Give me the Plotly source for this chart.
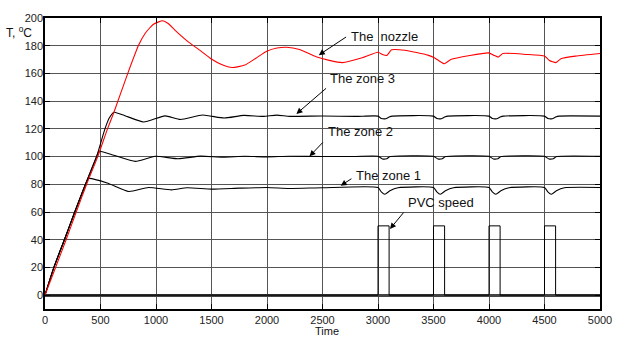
import plotly.graph_objects as go

# ---- data ----
nozzle_t = [0, 95, 190, 281, 375, 475, 563, 621, 749, 844, 903, 977, 1060, 1110, 1170,
            1288, 1390, 1495, 1590, 1687, 1800, 1900, 1998, 2090, 2176, 2294, 2442, 2560,
            2680, 2857, 3000, 3040, 3079, 3123, 3242, 3449, 3508, 3552, 3597, 3656, 3996,
            4041, 4085, 4124, 4337, 4500, 4544, 4603, 4648, 4781, 5000]
nozzle_v = [0, 20, 40, 60, 80, 100, 120, 132, 160.8, 180.5, 189, 195.5, 198, 196, 191.3,
            183, 177, 170.6, 166.5, 164.3, 166, 171, 176, 178.3, 178.9, 177.2, 172, 169.4,
            167.8, 171.3, 175.3, 173.7, 173, 177, 176.7, 173.2, 171.3, 169, 167, 170, 174.8,
            173.2, 171.8, 174.4, 173.7, 172.5, 169.4, 167.8, 170.6, 172.5, 174.4]

zone3_t = [0, 80, 175, 268, 365, 465, 540, 580, 622, 720, 888, 1081, 1220, 1420, 1614,
           1791, 1969, 2087, 2206, 2500, 2800, 3000, 3030, 3070, 3100, 3130, 3500, 3530,
           3570, 3600, 3630, 4000, 4030, 4070, 4100, 4130, 4500, 4530, 4570, 4600, 4630, 5000]
zone3_v = [0, 20, 40, 60, 80, 100, 120, 128, 132, 129.5, 125, 129.4, 126.8, 130, 127.8,
           129.7, 129, 129.9, 129, 129.3, 129, 129.2, 127.5, 127.3, 128.5, 129.2, 129.2, 127.5,
           127.3, 128.5, 129.2, 129.2, 127.5, 127.3, 128.5, 129.2, 129.2, 127.5, 127.3, 128.5, 129.2, 129.2]

zone2_t = [0, 80, 175, 268, 365, 465, 488, 620, 814, 992, 1199, 1400, 1600, 1800, 2000,
           2200, 2500, 2800, 3000, 3040, 3080, 3110, 3500, 3540, 3580, 3610, 4000, 4040,
           4080, 4110, 4500, 4540, 4580, 4610, 5000]
zone2_v = [0, 20, 40, 60, 80, 100, 103.8, 101, 96.5, 100.2, 98.4, 100.3, 99.6, 100.2, 99.8,
           100.2, 100, 100.1, 100.2, 98.3, 98.5, 100, 100.2, 98.3, 98.5, 100, 100.2, 98.3,
           98.5, 100, 100.2, 98.3, 98.5, 100, 100.2]

zone1_t = [0, 80, 175, 268, 365, 394, 560, 755, 932, 1140, 1280, 1500, 1750, 2000, 2200,
           2500, 3000, 3030, 3062, 3107, 3180, 3500, 3530, 3562, 3607, 3680, 4000, 4030,
           4062, 4107, 4180, 4500, 4530, 4562, 4607, 4680, 5000]
zone1_v = [0, 20, 40, 60, 80, 84.2, 81, 74.8, 77.7, 76, 77.5, 76.5, 77.2, 77.7, 77,
           77.5, 77.7, 74.5, 72.8, 75.3, 77.5, 77.7, 74.5, 72.8, 75.3, 77.5, 77.7, 74.5,
           72.8, 75.3, 77.5, 77.7, 74.5, 72.8, 75.3, 77.5, 77.7]

pvc_t = [0, 3000, 3100, 3500, 3600, 4000, 4100, 4500, 4600, 5000]
pvc_v = [0, 50, 0, 50, 0, 50, 0, 50, 0, 0]

x_ticks = [0, 500, 1000, 1500, 2000, 2500, 3000, 3500, 4000, 4500, 5000]
y_ticks = [0, 20, 40, 60, 80, 100, 120, 140, 160, 180, 200]

FONT = "Liberation Sans, Arial, sans-serif"

fig = go.Figure()
fig.add_trace(go.Scatter(x=pvc_t, y=pvc_v, mode="lines",
                         line=dict(color="black", width=1, shape="hv")))
for t, v in [(zone1_t, zone1_v), (zone2_t, zone2_v), (zone3_t, zone3_v)]:
    fig.add_trace(go.Scatter(x=t, y=v, mode="lines",
                             line=dict(color="black", width=1.1, shape="spline", smoothing=0.5)))
fig.add_trace(go.Scatter(x=nozzle_t, y=nozzle_v, mode="lines",
                         line=dict(color="#ff0000", width=1.1, shape="spline", smoothing=0.5)))

# arrows (head at curve, tail near label)
arrows = [
    (2466, 173.2, 2726, 187.0),
    (2265, 130.8, 2546, 150.2),
    (2383, 100.2, 2516, 111.3),
    (2664, 79.0, 2774, 84.7),
    (3108, 47.8, 3242, 60.7),
]
for hx, hy, tx, ty in arrows:
    fig.add_annotation(x=hx, y=hy, ax=tx, ay=ty, xref="x", yref="y", axref="x", ayref="y",
                       text="", showarrow=True, arrowhead=2, arrowsize=1.2, arrowwidth=1,
                       arrowcolor="black")

labels = [
    ("The  nozzle", 2738, 187.0),
    ("The zone 3", 2546, 156.7),
    ("The zone 2", 2531, 118.4),
    ("The zone 1", 2783, 86.1),
    ("PVC speed", 3248, 66.6),
]
for txt, lx, ly in labels:
    fig.add_annotation(x=lx, y=ly, xref="x", yref="y", text=txt, showarrow=False,
                       xanchor="left", yanchor="middle",
                       font=dict(family=FONT, size=13, color="#111"))

fig.add_annotation(x=-0.047, y=0.952, xref="paper", yref="paper",
                   text="T, <sup>o</sup>C", showarrow=False, xanchor="center", yanchor="middle",
                   font=dict(family=FONT, size=12, color="#111"))
fig.add_annotation(x=0.508, y=-0.077, xref="paper", yref="paper", text="Time",
                   showarrow=False, xanchor="center", yanchor="middle",
                   font=dict(family=FONT, size=11, color="#111"))

fig.update_layout(
    width=624, height=338,
    margin=dict(l=45, r=16, t=13, b=28),
    paper_bgcolor="white", plot_bgcolor="white",
    showlegend=False,
    font=dict(family=FONT, size=11, color="#222"),
)
fig.update_xaxes(range=[0, 5000], tickvals=x_ticks, ticks="inside", ticklen=5,
                 tickcolor="black", showline=True, linecolor="black", linewidth=1.5,
                 mirror="ticks", showgrid=True, gridcolor="#555", gridwidth=1,
                 zeroline=False, tickfont=dict(family=FONT, size=11, color="#222"))
fig.update_yaxes(range=[-10, 200], tickvals=y_ticks, ticks="inside", ticklen=5,
                 tickcolor="black", showline=True, linecolor="black", linewidth=1.5,
                 mirror="ticks", showgrid=True, gridcolor="#555", gridwidth=1,
                 zeroline=True, zerolinecolor="#444", zerolinewidth=2.5,
                 ticklabelstandoff=-2,
                 tickfont=dict(family=FONT, size=11, color="#222"))

fig.write_html("out.html", config={"displayModeBar": False},
               post_script="document.body.style.margin='0';document.body.style.overflow='hidden';")
